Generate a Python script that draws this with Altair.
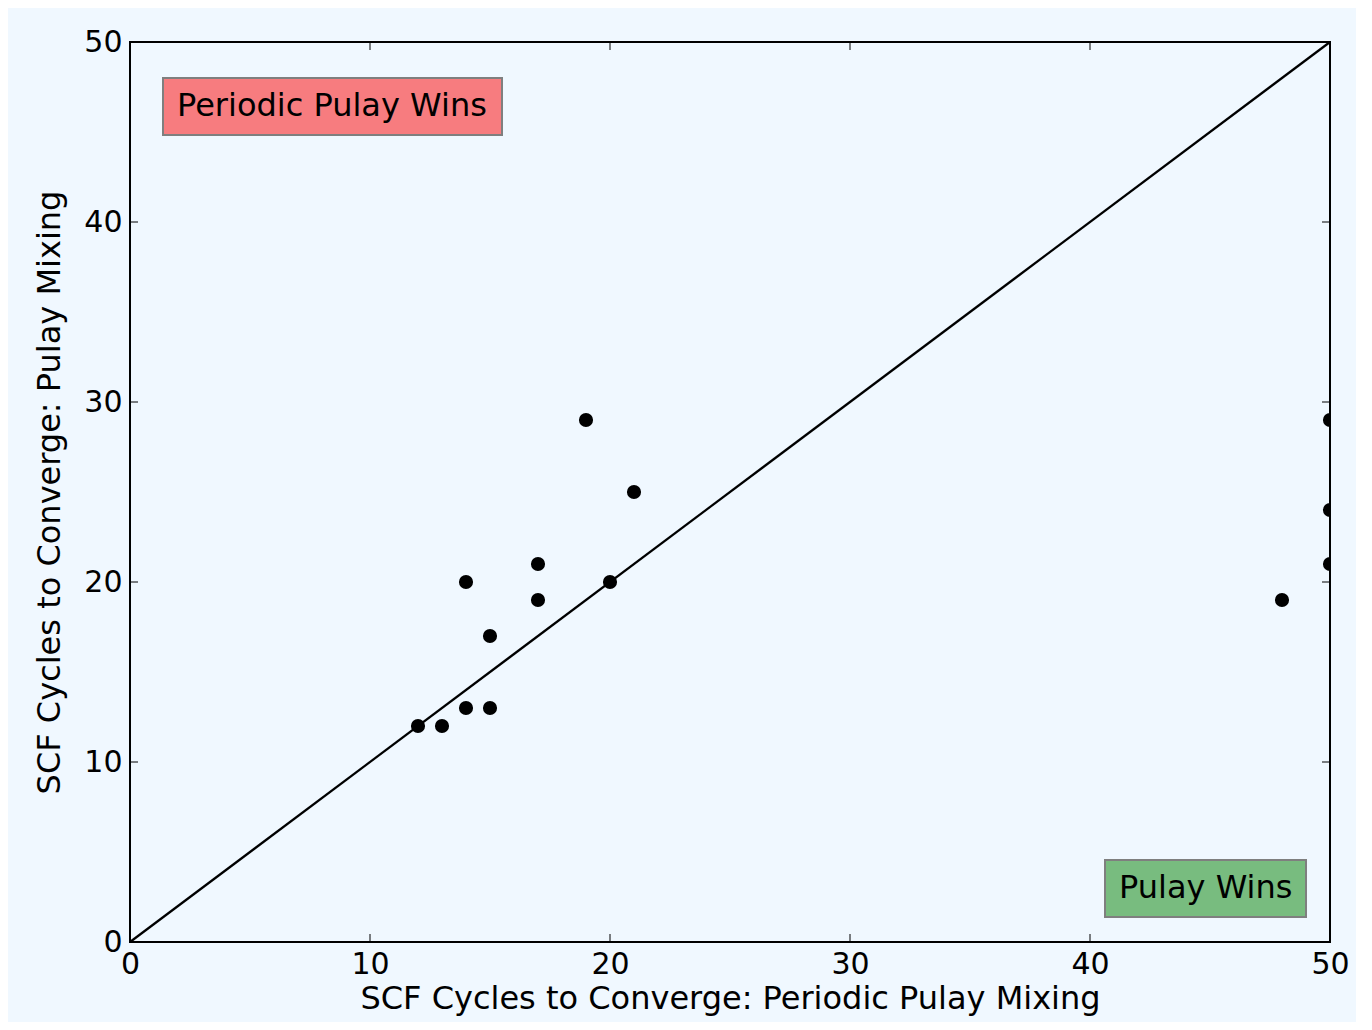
import altair as alt
import pandas as pd

x_vals = [12, 13, 14, 15, 14, 15, 17, 17, 19, 20, 21, 48, 50, 50, 50]
y_vals = [12, 12, 13, 13, 20, 17, 21, 19, 29, 20, 25, 19, 29, 24, 21]
tick_vals = [0, 10, 20, 30, 40, 50]
diag = [0, 50]

W, H = 1200, 900
FONT = "DejaVu Sans"
FS = 31
LFS = 30

pts = pd.DataFrame({"x": x_vals, "y": y_vals})
ticks = pd.DataFrame({"t": tick_vals})
line_df = pd.DataFrame({"x": diag, "y": diag})

xs = alt.Scale(domain=[0, 50], nice=False)
ys = alt.Scale(domain=[0, 50], nice=False)

xaxis = alt.Axis(values=tick_vals, ticks=False, domain=False, grid=False,
                 labelFont=FONT, labelFontSize=LFS, labelColor="black", labelPadding=7,
                 labelOverlap=False, labelFlush=False,
                 title="SCF Cycles to Converge: Periodic Pulay Mixing",
                 titleFont=FONT, titleFontSize=32, titleFontWeight="normal",
                 titleColor="black", titlePadding=4)
yaxis = alt.Axis(values=tick_vals, ticks=False, domain=False, grid=False,
                 labelFont=FONT, labelFontSize=LFS, labelColor="black", labelPadding=8,
                 labelOverlap=False, labelFlush=False,
                 title="SCF Cycles to Converge: Pulay Mixing",
                 titleFont=FONT, titleFontSize=32, titleFontWeight="normal",
                 titleColor="black", titlePadding=17)

diag_line = alt.Chart(line_df).mark_line(color="black", strokeWidth=2.2).encode(
    x=alt.X("x:Q", scale=xs, axis=xaxis),
    y=alt.Y("y:Q", scale=ys, axis=yaxis),
)

points = alt.Chart(pts).mark_circle(color="black", opacity=1, size=200, clip=True).encode(
    x=alt.X("x:Q", scale=xs),
    y=alt.Y("y:Q", scale=ys),
)

tl = 8
bottom_ticks = alt.Chart(ticks).mark_rule(color="black", strokeWidth=1).encode(
    x=alt.X("t:Q", scale=xs), y=alt.value(H), y2=alt.value(H - tl))
top_ticks = alt.Chart(ticks).mark_rule(color="black", strokeWidth=1).encode(
    x=alt.X("t:Q", scale=xs), y=alt.value(0), y2=alt.value(tl))
left_ticks = alt.Chart(ticks).mark_rule(color="black", strokeWidth=1).encode(
    y=alt.Y("t:Q", scale=ys), x=alt.value(0), x2=alt.value(tl))
right_ticks = alt.Chart(ticks).mark_rule(color="black", strokeWidth=1).encode(
    y=alt.Y("t:Q", scale=ys), x=alt.value(W), x2=alt.value(W - tl))

dummy = pd.DataFrame({"a": [0]})
box1 = alt.Chart(dummy).mark_rect(fill="#f77c7f", stroke="#7f7f7f", strokeWidth=2).encode(
    x=alt.value(33), x2=alt.value(372), y=alt.value(36), y2=alt.value(93))
text1 = alt.Chart(dummy).mark_text(text="Periodic Pulay Wins", font=FONT, fontSize=32,
                                   align="left", baseline="middle", color="black").encode(
    x=alt.value(47), y=alt.value(64))
box2 = alt.Chart(dummy).mark_rect(fill="#78bc7f", stroke="#7f7f7f", strokeWidth=2).encode(
    x=alt.value(975), x2=alt.value(1176), y=alt.value(818), y2=alt.value(875))
text2 = alt.Chart(dummy).mark_text(text="Pulay Wins", font=FONT, fontSize=32,
                                   align="left", baseline="middle", color="black").encode(
    x=alt.value(989), y=alt.value(846))

chart = alt.layer(diag_line, points, bottom_ticks, top_ticks, left_ticks, right_ticks,
                  box1, text1, box2, text2).properties(
    width=W, height=H,
    autosize=alt.AutoSizeParams(type="none"),
    padding={"left": 122, "top": 34, "right": 26, "bottom": 80},
    background="#f0f8ff",
).configure_view(stroke="black", strokeWidth=2)

chart.save("out.html", embed_options={"renderer": "svg", "actions": False})
